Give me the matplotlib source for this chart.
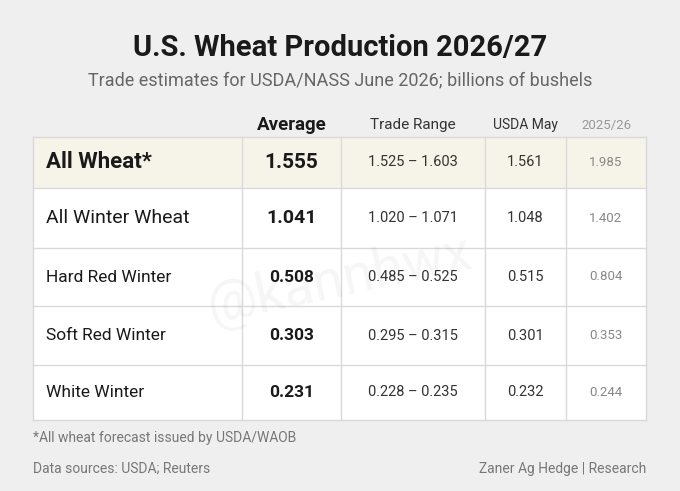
import matplotlib.pyplot as plt
from matplotlib.patches import Rectangle

plt.rcParams['font.family'] = ['Roboto', 'DejaVu Sans']

rows = ['All Wheat*', 'All Winter Wheat', 'Hard Red Winter', 'Soft Red Winter', 'White Winter']
average = ['1.555', '1.041', '0.508', '0.303', '0.231']
trade_range = ['1.525 – 1.603', '1.020 – 1.071', '0.485 – 0.525', '0.295 – 0.315', '0.228 – 0.235']
usda_may = ['1.561', '1.048', '0.515', '0.301', '0.232']
prev_year = ['1.985', '1.402', '0.804', '0.353', '0.244']
headers = ['Average', 'Trade Range', 'USDA May', '2025/26']

W, H = 680, 491
fig = plt.figure(figsize=(W / 100, H / 100), dpi=100)
ax = fig.add_axes([0, 0, 1, 1])
ax.set_xlim(0, W)
ax.set_ylim(H, 0)
ax.axis('off')
fig.patch.set_facecolor('#efefef')

ax.text(340, 48, 'U.S. Wheat Production 2026/27', ha='center', va='center',
        fontsize=21, fontweight='bold', color='#1a1a1a')
ax.text(340, 80, 'Trade estimates for USDA/NASS June 2026; billions of bushels',
        ha='center', va='center', fontsize=13, color='#666666')

cols = [33, 242, 341, 485, 566, 646]
row_y = [137, 188, 248, 306, 365, 420]
grid = '#d9d9d9'

# header
hx = [(cols[i + 1] + cols[i + 2]) / 2 for i in range(4)]
hsize = [13.5, 11, 10, 9.5]
hcol = ['#1a1a1a', '#333333', '#333333', '#999999']
hw = ['bold', 'normal', 'normal', 'normal']
for x, t, s, c, w in zip(hx, headers, hsize, hcol, hw):
    ax.text(x, 125, t, ha='center', va='center', fontsize=s, color=c, fontweight=w)

name_size = [16, 14, 12.5, 12.5, 12.5]
avg_size = [15, 14, 12.5, 12.5, 12.5]
for i, name in enumerate(rows):
    y0, y1 = row_y[i], row_y[i + 1]
    fc = '#f6f4e8' if i == 0 else 'white'
    ax.add_patch(Rectangle((cols[0], y0), cols[-1] - cols[0], y1 - y0,
                           facecolor=fc, edgecolor='none', zorder=1))
    yc = (y0 + y1) / 2
    ax.text(46, yc, name, ha='left', va='center', fontsize=name_size[i],
            fontweight='bold' if i == 0 else 'normal', color='#1a1a1a', zorder=3)
    ax.text(hx[0], yc, average[i], ha='center', va='center', fontsize=avg_size[i],
            fontweight='bold', color='#1a1a1a', zorder=3)
    ax.text(hx[1], yc, trade_range[i], ha='center', va='center', fontsize=10.5,
            color='#333333', zorder=3)
    ax.text(hx[2], yc, usda_may[i], ha='center', va='center', fontsize=10.5,
            color='#333333', zorder=3)
    ax.text(hx[3], yc, prev_year[i], ha='center', va='center', fontsize=9.5,
            color='#888888', zorder=3)

for y in row_y:
    ax.plot([cols[0], cols[-1]], [y, y], color=grid, lw=1, zorder=2)
for x in cols:
    ax.plot([x, x], [row_y[0], row_y[-1]], color=grid, lw=1, zorder=2)

ax.text(340, 280, '@kannhwx', ha='center', va='center', fontsize=40,
        color='#000000', alpha=0.04, rotation=12, zorder=4)

ax.text(33, 438, '*All wheat forecast issued by USDA/WAOB', ha='left', va='center',
        fontsize=10, color='#777777')
ax.text(33, 469, 'Data sources: USDA; Reuters', ha='left', va='center',
        fontsize=10, color='#777777')
ax.text(646, 469, 'Zaner Ag Hedge | Research', ha='right', va='center',
        fontsize=10, color='#777777')

fig.savefig('out.png', dpi=100, facecolor=fig.get_facecolor())
